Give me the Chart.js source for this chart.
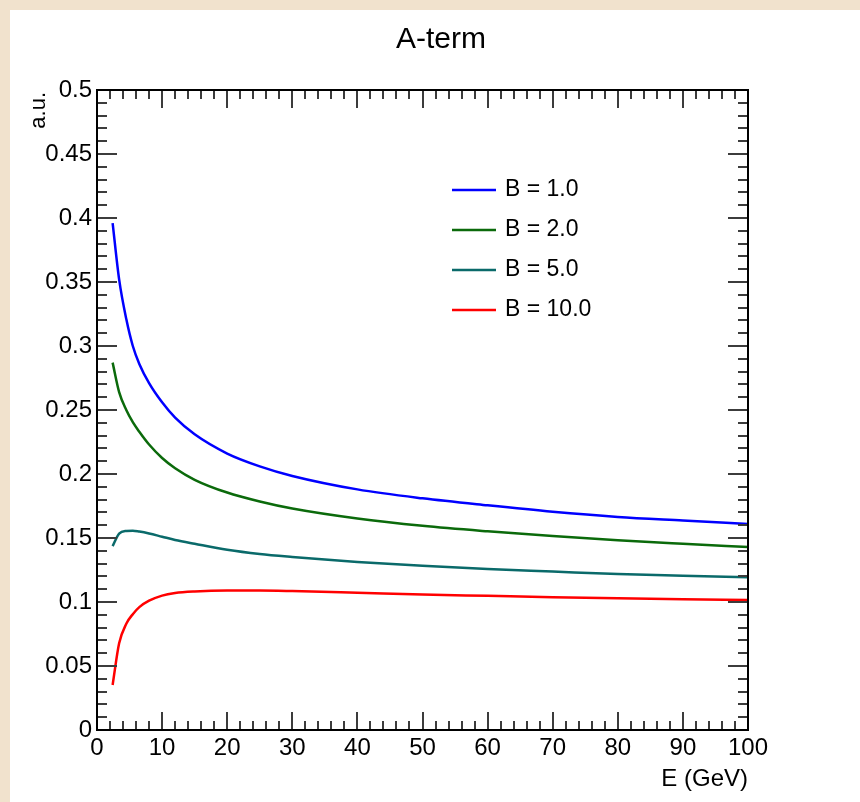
<!DOCTYPE html>
<html>
<head>
<meta charset="utf-8">
<script src="https://cdn.jsdelivr.net/npm/chart.js@4"></script>
<style>
  html, body { margin: 0; padding: 0; background: #f1e2cd; }
  #panel { position: absolute; left: 10px; top: 10px; width: 850px; height: 792px; background: #fff; }
</style>
</head>
<body>
<div id="panel"><canvas id="myChart" width="850" height="792"></canvas></div>
<script>
// E (GeV) sample points
const energies = [2.4, 3.4, 4.5, 5.5, 6.5, 8, 10, 12, 15, 20, 25, 30, 40, 50, 60, 70, 80, 90, 100];

// A-term values for each B field
const b1  = [0.396, 0.352, 0.321, 0.300, 0.286, 0.271, 0.256, 0.244, 0.231, 0.216, 0.206, 0.1985, 0.188, 0.181, 0.1755, 0.1705, 0.1665, 0.1637, 0.161];
const b2  = [0.287, 0.264, 0.250, 0.2405, 0.233, 0.223, 0.2125, 0.2045, 0.1955, 0.1855, 0.1785, 0.173, 0.1652, 0.1595, 0.1552, 0.1515, 0.1482, 0.1455, 0.143];
const b5  = [0.1437, 0.1535, 0.1555, 0.1557, 0.155, 0.1535, 0.151, 0.1485, 0.1455, 0.1408, 0.1375, 0.1352, 0.1313, 0.1283, 0.1258, 0.1238, 0.1218, 0.1205, 0.1193];
const b10 = [0.0352, 0.0677, 0.0830, 0.0905, 0.0960, 0.1010, 0.1050, 0.1070, 0.1082, 0.1089, 0.1089, 0.1085, 0.1072, 0.1058, 0.1048, 0.1038, 0.1029, 0.1022, 0.1016];

const seriesLabels = ['B = 1.0', 'B = 2.0', 'B = 5.0', 'B = 10.0'];
const seriesColors = ['#0000ff', '#0b6a0b', '#0a6a6a', '#ff0000'];

const xTickLabels = ['0', '10', '20', '30', '40', '50', '60', '70', '80', '90', '100'];
const yTickLabels = ['0', '0.05', '0.1', '0.15', '0.2', '0.25', '0.3', '0.35', '0.4', '0.45', '0.5'];

const FONT = "'Liberation Sans', Arial, Helvetica, sans-serif";

function toPoints(ys) {
  return energies.map((e, i) => ({ x: e, y: ys[i] }));
}

// ROOT-like frame, inner ticks, titles and legend
const rootFrame = {
  id: 'rootFrame',
  afterDatasetsDraw(chart) {
    const ctx = chart.ctx;
    const a = chart.chartArea;
    const x = chart.scales.x, y = chart.scales.y;
    ctx.save();

    ctx.strokeStyle = '#3c3c3c';
    ctx.lineWidth = 2;
    ctx.beginPath();
    for (let v = 0; v <= 100; v += 2) {
      const px = Math.round(x.getPixelForValue(v));
      const len = v % 10 === 0 ? 18 : 9;
      ctx.moveTo(px, a.bottom); ctx.lineTo(px, a.bottom - len);
      ctx.moveTo(px, a.top); ctx.lineTo(px, a.top + len);
    }
    for (let i = 0; i <= 50; i++) {
      const py = Math.round(y.getPixelForValue(i / 100));
      const len = i % 5 === 0 ? 20 : 10;
      ctx.moveTo(a.left, py); ctx.lineTo(a.left + len, py);
      ctx.moveTo(a.right, py); ctx.lineTo(a.right - len, py);
    }
    ctx.stroke();

    ctx.strokeStyle = '#000';
    ctx.lineWidth = 2;
    ctx.strokeRect(a.left, a.top, a.right - a.left, a.bottom - a.top);

    ctx.fillStyle = '#000';
    // title
    ctx.font = '30px ' + FONT;
    ctx.textAlign = 'center';
    ctx.textBaseline = 'middle';
    ctx.fillText('A-term', 431, 30);

    // x axis title
    ctx.font = '24px ' + FONT;
    ctx.textAlign = 'right';
    ctx.fillText('E (GeV)', a.right, 769);

    // y axis title
    ctx.save();
    ctx.translate(29, a.top + 2);
    ctx.rotate(-Math.PI / 2);
    ctx.font = '22px ' + FONT;
    ctx.textAlign = 'right';
    ctx.textBaseline = 'middle';
    ctx.fillText('a.u.', 0, 0);
    ctx.restore();

    // legend
    ctx.font = '23px ' + FONT;
    ctx.textAlign = 'left';
    ctx.textBaseline = 'middle';
    ctx.lineWidth = 2.5;
    seriesLabels.forEach((lab, i) => {
      const ly = 180 + i * 40;
      ctx.strokeStyle = seriesColors[i];
      ctx.beginPath();
      ctx.moveTo(442, ly); ctx.lineTo(486, ly);
      ctx.stroke();
      ctx.fillStyle = '#000';
      ctx.fillText(lab, 495, ly);
    });

    ctx.restore();
  }
};

const ctx = document.getElementById('myChart');

new Chart(ctx, {
  type: 'line',
  data: {
    datasets: [b1, b2, b5, b10].map((ys, i) => ({
      label: seriesLabels[i],
      data: toPoints(ys),
      borderColor: seriesColors[i],
      borderWidth: 2.5,
      pointRadius: 0,
      cubicInterpolationMode: 'monotone',
      fill: false
    }))
  },
  options: {
    responsive: false,
    animation: false,
    layout: { padding: { left: 0, top: 80, right: 112, bottom: 0 } },
    plugins: {
      legend: { display: false },
      tooltip: { enabled: false },
      title: { display: false }
    },
    scales: {
      x: {
        type: 'linear',
        min: 0,
        max: 100,
        grid: { display: false, drawTicks: false },
        border: { display: false },
        ticks: {
          stepSize: 10,
          autoSkip: false,
          maxRotation: 0,
          padding: 4,
          color: '#000',
          font: { size: 24, family: FONT },
          callback: (v, i) => xTickLabels[i]
        },
        afterFit: (s) => { s.height = 72; }
      },
      y: {
        type: 'linear',
        min: 0,
        max: 0.5,
        grid: { display: false, drawTicks: false },
        border: { display: false },
        ticks: {
          stepSize: 0.05,
          autoSkip: false,
          padding: 5,
          color: '#000',
          font: { size: 24, family: FONT },
          callback: (v, i) => yTickLabels[i]
        },
        afterFit: (s) => { s.width = 87; }
      }
    }
  },
  plugins: [rootFrame]
});
</script>
</body>
</html>
